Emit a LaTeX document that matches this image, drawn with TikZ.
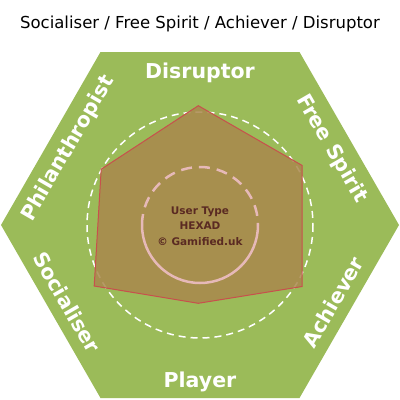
\documentclass[tikz,border=0pt]{standalone}
\usepackage{fontspec}
\setmainfont{DejaVu Sans}
\usetikzlibrary{positioning,calc}
\definecolor{hexgreen}{HTML}{9BBB59}
\definecolor{hexbrown}{HTML}{AA884D}
\definecolor{hexred}{HTML}{C8504D}
\definecolor{hexpink}{HTML}{E6B9B8}
\definecolor{hextext}{HTML}{5A2A22}

\begin{document}
\begin{tikzpicture}[
x=1pt, y=-1pt,
side-label/.style = {text=white, inner sep=0pt, text height=15pt, text depth=0pt, font=\bfseries\fontsize{20.5}{24}\selectfont},
centre-text/.style = {text=hextext, align=center, inner sep=0pt, font=\bfseries\fontsize{10.5}{15.5}\selectfont},
title-text/.style = {text=black, inner sep=0pt, font=\fontsize{16.5}{19}\selectfont}
]
\useasboundingbox (0,0) rectangle (400,400);

% hexagon corners
\coordinate (centre) at (200, 225);
\coordinate (l)  at (1, 225);
\coordinate (tl) at (100.5, 52);
\coordinate (tr) at (299.5, 52);
\coordinate (r)  at (399, 225);
\coordinate (br) at (299.5, 398);
\coordinate (bl) at (100.5, 398);

\fill[hexgreen] (l) -- (tl) -- (tr) -- (r) -- (br) -- (bl) -- cycle;
\draw[white, line width=1.5pt, dash pattern=on 7pt off 5pt] (centre) circle [radius=113];

% profile
\coordinate (p-t)  at (198.3, 105.7);
\coordinate (p-tr) at (302.2, 165.5);
\coordinate (p-br) at (302.2, 286.5);
\coordinate (p-b)  at (198.3, 303.3);
\coordinate (p-bl) at (94.2, 286);
\coordinate (p-tl) at (101.2, 169.2);

\draw[hexred, fill=hexbrown, fill opacity=0.85, line width=1pt]
  (p-t) -- (p-tr) -- (p-br) -- (p-b) -- (p-bl) -- (p-tl) -- cycle;

\draw[hexpink, line width=2.5pt, dash pattern=on 11pt off 7pt] (centre) ++(-58,0) arc[start angle=180, end angle=360, radius=58];
\draw[hexpink, line width=2.5pt] (centre) ++(58,0) arc[start angle=0, end angle=180, radius=58];

% labels
\node [title-text] (title) at (200, 24) {Socialiser / Free Spirit / Achiever / Disruptor};
\node [centre-text] (hexad) at (200, 226) {User Type\\HEXAD\\© Gamified.uk};

\node [side-label] (disruptor) at ($(tl)!0.5!(tr)!18.5pt!(centre)$) {Disruptor};
\node [side-label, rotate=-60] (freespirit) at ($(tr)!0.5!(r)!18.5pt!(centre)$) {Free Spirit};
\node [side-label, rotate=60] (achiever) at ($(r)!0.5!(br)!18.5pt!(centre)$) {Achiever};
\node [side-label] (player) at ($(br)!0.5!(bl)!18.5pt!(centre)$) {Player};
\node [side-label, rotate=-60] (socialiser) at ($(bl)!0.5!(l)!18.5pt!(centre)$) {Socialiser};
\node [side-label, rotate=60] (philanthropist) at ($(l)!0.5!(tl)!18.5pt!(centre)$) {Philanthropist};

\end{tikzpicture}
\end{document}
